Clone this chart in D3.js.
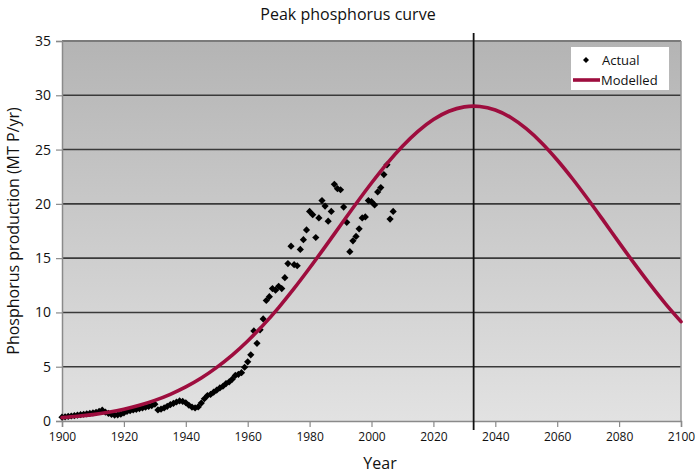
<!DOCTYPE html>
<html><head><meta charset="utf-8">
<script src="https://cdn.jsdelivr.net/npm/d3@7"></script>
<style>
html,body{margin:0;padding:0;background:#fff;}
svg{display:block;font-family:"Open Sans",sans-serif;}
</style></head>
<body><svg id="c" width="696" height="473"></svg>
<script>
// ---- data ----
const actualYears = d3.range(1900, 2008);
const actualValues = [
 0.35,0.38,0.42,0.46,0.50,0.54,0.58,0.62,0.66,0.70,
 0.74,0.80,0.88,1.00,0.82,0.70,0.60,0.55,0.57,0.62,
 0.75,0.88,0.95,1.02,1.08,1.14,1.20,1.27,1.34,1.42,
 1.55,1.02,1.10,1.20,1.35,1.50,1.62,1.75,1.85,1.80,
 1.68,1.45,1.28,1.20,1.30,1.65,2.05,2.35,2.45,2.65,
 2.85,3.05,3.20,3.45,3.60,3.85,4.20,4.30,4.45,4.95,
 5.45,6.10,8.30,7.15,8.40,9.40,11.10,11.45,12.20,12.05,
 12.40,12.20,13.20,14.50,16.10,14.40,14.30,15.80,16.70,17.60,
 19.30,19.00,16.90,18.70,20.30,19.80,18.40,19.30,21.80,21.40,
 21.30,19.70,18.30,15.60,16.60,17.00,17.70,18.70,18.80,20.30,
 20.20,19.90,21.10,21.50,22.70,23.60,18.60,19.30
];
const modelYears = [1900,1905,1910,1915,1920,1925,1930,1935,1940,1945,1950,1955,1960,1965,1970,1975,1980,1985,1990,1995,2000,2005,2010,2015,2020,2025,2030,2033,2035,2040,2045,2050,2055,2060,2065,2070,2075,2080,2085,2090,2095,2100];
const modelValues = [0.31,0.43,0.59,0.81,1.09,1.45,1.90,2.46,3.14,3.96,4.94,6.07,7.37,8.83,10.45,12.21,14.09,16.04,18.03,20.01,21.92,23.71,25.31,26.68,27.77,28.53,28.93,29.0,28.97,28.64,27.95,26.92,25.61,24.04,22.29,20.40,18.43,16.43,14.47,12.58,10.79,9.15];
const peakYear = 2033;
const xTicks = [1900,1920,1940,1960,1980,2000,2020,2040,2060,2080,2100];
const yTicks = [0,5,10,15,20,25,30,35];

// ---- layout ----
const svg = d3.select("#c");
const L = 62, R = 681, T = 41, B = 421;
const x = d3.scaleLinear().domain([1900, 2100]).range([L, R]);
const y = d3.scaleLinear().domain([0, 35]).range([B, T]);

const defs = svg.append("defs");
const g = defs.append("linearGradient").attr("id","bg").attr("x1",0).attr("y1",0).attr("x2",0).attr("y2",1);
g.append("stop").attr("offset","0%").attr("stop-color","#b4b4b4");
g.append("stop").attr("offset","100%").attr("stop-color","#e2e2e2");

svg.append("rect").attr("x",L).attr("y",T).attr("width",R-L).attr("height",B-T).attr("fill","url(#bg)");

// gridlines
svg.append("g").selectAll("line").data(yTicks.filter(v=>v>0&&v<35)).join("line")
  .attr("x1",L).attr("x2",R).attr("y1",d=>y(d)).attr("y2",d=>y(d))
  .attr("stroke","#3a3a3a").attr("stroke-width",1.6);
// top & right border
svg.append("line").attr("x1",L).attr("x2",R).attr("y1",T).attr("y2",T).attr("stroke","#7a7a7a").attr("stroke-width",2);
svg.append("line").attr("x1",R).attr("x2",R).attr("y1",T).attr("y2",B).attr("stroke","#9a9a9a").attr("stroke-width",1.5);

// axes
const xAxis = svg.append("g").attr("transform",`translate(0,${B})`)
  .call(d3.axisBottom(x).tickValues(xTicks).tickFormat(d3.format("d")).tickSizeOuter(0).tickSize(6).tickPadding(5));
const yAxis = svg.append("g").attr("transform",`translate(${L},0)`)
  .call(d3.axisLeft(y).tickValues(yTicks).tickSizeOuter(0).tickSize(6).tickPadding(5));
[xAxis,yAxis].forEach(a=>{
  a.select(".domain").attr("stroke","#8a8a8a").attr("stroke-width",1.5);
  a.selectAll(".tick line").attr("stroke","#8a8a8a").attr("stroke-width",1.2);
  a.selectAll("text").attr("fill","#111").style("font-family","'Open Sans',sans-serif");
});
xAxis.selectAll("text").style("font-size","12px");
yAxis.selectAll("text").style("font-size","14px");

// peak line
svg.append("line").attr("x1",x(peakYear)).attr("x2",x(peakYear)).attr("y1",33).attr("y2",430)
  .attr("stroke","#111").attr("stroke-width",1.8);

// actual points (rotated squares = diamonds)
const sym = d3.symbol().type(d3.symbolSquare).size(26);
svg.append("g").selectAll("path").data(actualYears.map((yr,i)=>[yr,actualValues[i]])).join("path")
  .attr("d",sym).attr("transform",d=>`translate(${x(d[0])},${y(d[1])}) rotate(45)`).attr("fill","#000");

// modelled line
const line = d3.line().x((d,i)=>x(modelYears[i])).y(d=>y(d)).curve(d3.curveMonotoneX);
svg.append("path").datum(modelValues).attr("d",line).attr("fill","none")
  .attr("stroke","#9e0d3e").attr("stroke-width",3.6).attr("stroke-linecap","round");

// legend
const lg = svg.append("g");
lg.append("rect").attr("x",571).attr("y",47).attr("width",98).attr("height",43).attr("fill","#fff");
lg.append("path").attr("d",d3.symbol().type(d3.symbolSquare).size(18)).attr("transform","translate(586,60) rotate(45)").attr("fill","#000");
lg.append("text").attr("x",602).attr("y",65).text("Actual").style("font-size","13px").attr("fill","#111");
lg.append("line").attr("x1",573).attr("x2",600).attr("y1",80).attr("y2",80).attr("stroke","#9e0d3e").attr("stroke-width",3.6);
lg.append("text").attr("x",601).attr("y",85).text("Modelled").style("font-size","13px").attr("fill","#111");

// titles
svg.append("text").attr("x",348).attr("y",20).attr("text-anchor","middle").style("font-size","16px").attr("fill","#111").text("Peak phosphorus curve");
svg.append("text").attr("x",380).attr("y",469).attr("text-anchor","middle").style("font-size","16px").attr("fill","#111").text("Year");
svg.append("text").attr("transform","translate(19,231) rotate(-90)").attr("text-anchor","middle").style("font-size","16px").attr("fill","#111").text("Phosphorus production (MT P/yr)");
</script></body></html>
